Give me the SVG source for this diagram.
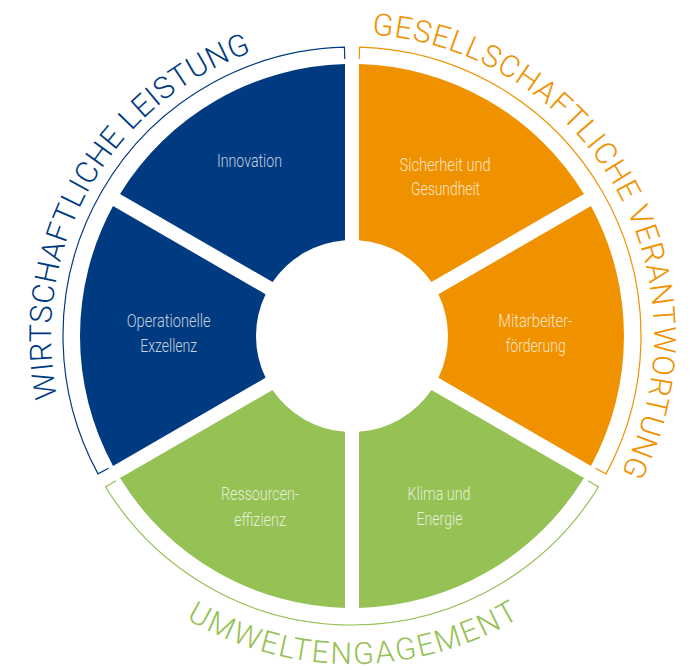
<svg xmlns="http://www.w3.org/2000/svg" width="699" height="670" viewBox="0 0 699 670">
<style>
.blue{fill:#003a80}
.orange{fill:#f09200}
.green{fill:#96c155}
.lbl{font-family:Roboto,"Liberation Sans",sans-serif;font-weight:300;font-size:17.5px;fill:#ffffff;fill-opacity:0.78;text-anchor:middle}
.frame{fill:none;stroke-width:1.2}
.ring{font-family:Roboto,"Liberation Sans",sans-serif;font-weight:300;font-size:30.5px}
</style>
<defs>
<path id="tpBlue" d="M 57.36 397.55 A 301 301 0 0 1 252.02 52.09"/>
<path id="tpOrange" d="M 372.01 34.66 A 302 302 0 0 1 621.08 473.1"/>
<path id="tpGreen" d="M 186.02 618.9 A 328 328 0 0 0 519.98 617.73"/>
</defs>
<rect width="699" height="670" fill="#ffffff"/>
<g id="segments">
<g id="sicherheit">
<path class="orange" d="M 583.98 193.98 A 272 272 0 0 0 359.0 64.09 L 359.0 240.26 A 96 96 0 0 1 431.42 282.07 Z"/>
<text class="lbl" x="445" y="171" textLength="91" lengthAdjust="spacingAndGlyphs">Sicherheit und</text>
<text class="lbl" x="445.5" y="195" textLength="69" lengthAdjust="spacingAndGlyphs">Gesundheit</text>
</g>
<g id="innovation">
<path class="blue" d="M 345.0 64.09 A 272 272 0 0 0 120.02 193.98 L 272.58 282.07 A 96 96 0 0 1 345.0 240.26 Z"/>
<text class="lbl" x="249.5" y="167" textLength="65" lengthAdjust="spacingAndGlyphs">Innovation</text>
</g>
<g id="operationelle">
<path class="blue" d="M 113.02 206.11 A 272 272 0 0 0 113.02 465.89 L 265.58 377.81 A 96 96 0 0 1 265.58 294.19 Z"/>
<text class="lbl" x="168.7" y="327" textLength="84" lengthAdjust="spacingAndGlyphs">Operationelle</text>
<text class="lbl" x="168.7" y="351.5" textLength="57" lengthAdjust="spacingAndGlyphs">Exzellenz</text>
</g>
<g id="ressourcen">
<path class="green" d="M 120.02 478.02 A 272 272 0 0 0 345.0 607.91 L 345.0 431.74 A 96 96 0 0 1 272.58 389.93 Z"/>
<text class="lbl" x="260" y="500" textLength="78" lengthAdjust="spacingAndGlyphs">Ressourcen-</text>
<text class="lbl" x="260" y="525.5" textLength="52" lengthAdjust="spacingAndGlyphs">effizienz</text>
</g>
<g id="klima">
<path class="green" d="M 359.0 607.91 A 272 272 0 0 0 583.98 478.02 L 431.42 389.93 A 96 96 0 0 1 359.0 431.74 Z"/>
<text class="lbl" x="439" y="500" textLength="63" lengthAdjust="spacingAndGlyphs">Klima und</text>
<text class="lbl" x="439.5" y="525" textLength="46" lengthAdjust="spacingAndGlyphs">Energie</text>
</g>
<g id="mitarbeiter">
<path class="orange" d="M 590.98 465.89 A 272 272 0 0 0 590.98 206.11 L 438.42 294.19 A 96 96 0 0 1 438.42 377.81 Z"/>
<text class="lbl" x="535.3" y="327" textLength="74" lengthAdjust="spacingAndGlyphs">Mitarbeiter-</text>
<text class="lbl" x="535.7" y="351.5" textLength="60" lengthAdjust="spacingAndGlyphs">förderung</text>
</g>
</g>
<g id="wirtschaftliche-leistung">
<path class="frame" stroke="#003a80" d="M 344.75 59.1 L 344.43 47.1 A 289 289 0 0 0 98.02 473.9 L 108.57 468.17"/>
<text class="ring" fill="#003a80"><textPath href="#tpBlue" textLength="432">WIRTSCHAFTLICHE LEISTUNG</textPath></text>
</g>
<g id="gesellschaftliche-verantwortung">
<path class="frame" stroke="#f09200" d="M 359.25 59.1 L 359.57 47.1 A 289 289 0 0 1 605.98 473.9 L 595.43 468.17"/>
<text class="ring" fill="#f09200"><textPath href="#tpOrange" textLength="596">GESELLSCHAFTLICHE VERANTWORTUNG</textPath></text>
</g>
<g id="umweltengagement">
<path class="frame" stroke="#96c155" d="M 115.82 480.73 L 105.59 487.0 A 289 289 0 0 0 598.41 487.0 L 588.18 480.73"/>
<text class="ring" fill="#96c155"><textPath href="#tpGreen" textLength="350">UMWELTENGAGEMENT</textPath></text>
</g>
<g id="connectors"></g>
</svg>
